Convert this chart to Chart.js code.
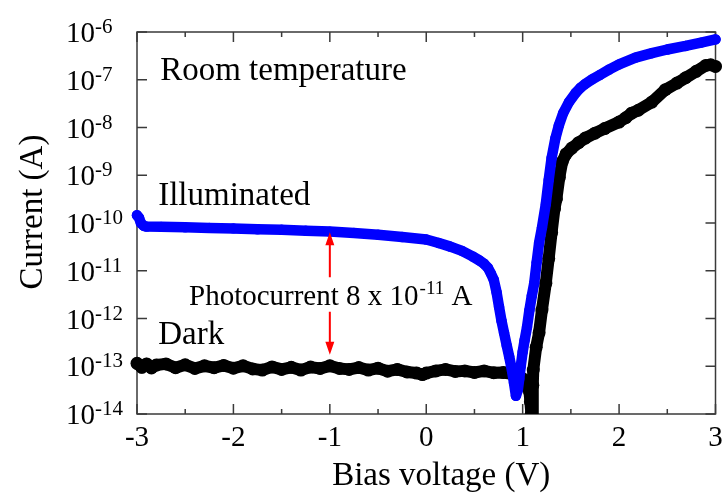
<!DOCTYPE html>
<html>
<head>
<meta charset="utf-8">
<script src="https://cdn.jsdelivr.net/npm/chart.js@4.4.1/dist/chart.umd.min.js"></script>
<style>
  html, body { margin: 0; padding: 0; background: #ffffff; }
  #wrap { width: 722px; height: 494px; position: relative; }
</style>
</head>
<body>
<div id="wrap"><canvas id="c" width="722" height="494"></canvas></div>
<script>
// ---------- data ----------
const illumV = [-3.00,-2.98,-2.96,-2.93,-2.90,-2.75,-2.50,-2.25,-2.00,-1.75,-1.50,-1.25,-1.00,-0.75,-0.50,-0.25,0.00,0.13,0.25,0.37,0.48,0.55,0.60,0.64,0.67,0.70,0.73,0.755,0.78,0.807,0.835,0.86,0.89,0.91,0.93,0.95,0.965,0.98,1.00,1.02,1.045,1.07,1.095,1.12,1.145,1.17,1.20,1.24,1.27,1.30,1.34,1.375,1.42,1.48,1.55,1.60,1.65,1.72,1.80,1.90,2.00,2.17,2.34,2.50,2.69,2.85,3.00];
const illumI = [1.45e-10,1.3e-10,1.0e-10,8.7e-11,8.4e-11,8.3e-11,8.1e-11,7.9e-11,7.7e-11,7.4e-11,7.2e-11,6.9e-11,6.6e-11,6.2e-11,5.7e-11,5.1e-11,4.5e-11,3.8e-11,3.2e-11,2.6e-11,2.0e-11,1.65e-11,1.4e-11,1.15e-11,8.8e-12,6.5e-12,3.5e-12,1.75e-12,9e-13,5e-13,2.7e-13,1.6e-13,8e-14,4.5e-14,2.4e-14,3.2e-14,5.5e-14,1.0e-13,2.0e-13,3.5e-13,6.6e-13,1.5e-12,3.0e-12,5.5e-12,1.5e-11,3.8e-11,8.0e-11,2.5e-10,8.0e-10,2.3e-9,6.0e-9,1.1e-8,2.0e-8,3.4e-8,5.3e-8,6.8e-8,8.2e-8,1.02e-7,1.26e-7,1.65e-7,2.1e-7,2.9e-7,3.6e-7,4.3e-7,5.1e-7,6.0e-7,7.0e-7];

const darkV = [-3.00,-2.95,-2.90,-2.85,-2.80,-2.70,-2.60,-2.50,-2.40,-2.30,-2.20,-2.10,-2.00,-1.90,-1.80,-1.70,-1.60,-1.50,-1.40,-1.30,-1.20,-1.10,-1.00,-0.90,-0.80,-0.70,-0.60,-0.50,-0.40,-0.30,-0.20,-0.10,-0.04,0.00,0.10,0.20,0.30,0.40,0.50,0.60,0.70,0.80,0.90,0.96,1.00,1.04,1.07,1.08,1.09,1.10,1.105,1.11,1.14,1.17,1.20,1.24,1.27,1.30,1.33,1.35,1.38,1.41,1.45,1.51,1.58,1.65,1.75,1.85,2.00,2.07,2.13,2.20,2.34,2.48,2.60,2.69,2.80,2.90,2.95,3.00];
const darkI = [1.15e-13,0.95e-13,1.12e-13,0.92e-13,1.06e-13,1.12e-13,0.93e-13,1.07e-13,0.9e-13,1.02e-13,0.93e-13,1.04e-13,0.91e-13,1.02e-13,0.88e-13,0.83e-13,0.97e-13,0.86e-13,0.95e-13,0.83e-13,0.96e-13,0.9e-13,1.02e-13,0.9e-13,0.86e-13,0.94e-13,0.83e-13,0.91e-13,0.79e-13,0.86e-13,0.76e-13,0.72e-13,0.67e-13,0.72e-13,0.8e-13,0.86e-13,0.78e-13,0.8e-13,0.74e-13,0.8e-13,0.73e-13,0.74e-13,0.69e-13,0.63e-13,0.55e-13,0.42e-13,0.3e-13,0.18e-13,1.0e-14,8e-15,4e-14,8.3e-14,2.5e-13,5e-13,1.5e-12,5.5e-12,1.8e-11,6.3e-11,2.0e-10,3.2e-10,9e-10,1.9e-9,2.8e-9,3.7e-9,4.8e-9,6.0e-9,7.6e-9,9.5e-9,1.3e-8,1.6e-8,2.0e-8,2.3e-8,3.4e-8,6.2e-8,8.5e-8,1.1e-7,1.5e-7,2.0e-7,2.05e-7,1.9e-7];

const xTicks = [-3,-2,-1,0,1,2,3];
const xMinorTicks = [-2.5,-1.5,-0.5,0.5,1.5,2.5];
const yExponents = [-14,-13,-12,-11,-10,-9,-8,-7,-6];

const xTitle = 'Bias voltage (V)';
const yTitle = 'Current (A)';
const notes = [
  { text: 'Room temperature', v: -2.76, i: 9.9e-8 },
  { text: 'Illuminated', v: -2.78, i: 2.4e-10 },
  { text: 'Dark', v: -2.78, i: 2.9e-13 }
];
const photoV = -1.0;
const photoTop = 6.4e-11;
const photoBottom = 1.75e-13;

// ---------- chart ----------
const SERIF = '"Liberation Serif", "Times New Roman", serif';
Chart.defaults.font.family = SERIF;

const toXY = (vs, is) => vs.map((v, k) => ({ x: v, y: is[k] }));
const FRAME = '#3a3a3a';

const decor = {
  id: 'decor',
  beforeDatasetsDraw(chart) {
    const { ctx, chartArea: a, scales: { x, y } } = chart;
    ctx.save();
    ctx.strokeStyle = FRAME;
    ctx.lineWidth = 1.5;
    ctx.strokeRect(a.left, a.top, a.right - a.left, a.bottom - a.top);
    ctx.beginPath();
    xTicks.forEach(t => {
      const px = x.getPixelForValue(t);
      ctx.moveTo(px, a.bottom); ctx.lineTo(px, a.bottom - 10);
      ctx.moveTo(px, a.top); ctx.lineTo(px, a.top + 10);
    });
    xMinorTicks.forEach(t => {
      const px = x.getPixelForValue(t);
      ctx.moveTo(px, a.bottom); ctx.lineTo(px, a.bottom - 5);
      ctx.moveTo(px, a.top); ctx.lineTo(px, a.top + 5);
    });
    yExponents.forEach(e => {
      const py = y.getPixelForValue(Math.pow(10, e));
      ctx.moveTo(a.left, py); ctx.lineTo(a.left + 10, py);
      ctx.moveTo(a.right, py); ctx.lineTo(a.right - 10, py);
    });
    ctx.stroke();
    ctx.restore();
  },
  afterDatasetsDraw(chart) {
    const { ctx, chartArea: a, scales: { x, y } } = chart;
    ctx.save();
    ctx.fillStyle = '#000';
    // y tick labels 10^n
    yExponents.forEach(e => {
      const py = y.getPixelForValue(Math.pow(10, e));
      ctx.textAlign = 'left';
      ctx.textBaseline = 'alphabetic';
      ctx.font = '29px ' + SERIF;
      ctx.fillText('10', 66, py + 10);
      const w = ctx.measureText('10').width;
      ctx.font = '21px ' + SERIF;
      ctx.fillText(String(e), 66 + w, py + 1);
    });
    // x tick labels
    ctx.font = '29px ' + SERIF;
    ctx.textAlign = 'center';
    xTicks.forEach(t => {
      ctx.fillText(String(t), x.getPixelForValue(t), 446);
    });
    // axis titles
    ctx.font = '33px ' + SERIF;
    ctx.fillText(xTitle, (a.left + a.right) / 2 + 15, 485);
    ctx.save();
    ctx.translate(42, 212);
    ctx.rotate(-Math.PI / 2);
    ctx.textAlign = 'center';
    ctx.fillText(yTitle, 0, 0);
    ctx.restore();
    // annotations
    ctx.textAlign = 'left';
    ctx.font = '33px ' + SERIF;
    notes.forEach(n => {
      ctx.fillText(n.text, x.getPixelForValue(n.v), y.getPixelForValue(n.i));
    });
    // photocurrent arrows
    const ax = x.getPixelForValue(photoV);
    const yt = y.getPixelForValue(photoTop);
    const yb = y.getPixelForValue(photoBottom);
    const gapTop = yt + 45, gapBot = yb - 43;
    ctx.strokeStyle = '#ff0000';
    ctx.fillStyle = '#ff0000';
    ctx.lineWidth = 2;
    ctx.beginPath();
    ctx.moveTo(ax, yt + 10); ctx.lineTo(ax, gapTop);
    ctx.moveTo(ax, yb - 10); ctx.lineTo(ax, gapBot);
    ctx.stroke();
    ctx.beginPath();
    ctx.moveTo(ax, yt); ctx.lineTo(ax - 4.5, yt + 13); ctx.lineTo(ax + 4.5, yt + 13); ctx.closePath();
    ctx.moveTo(ax, yb); ctx.lineTo(ax - 4.5, yb - 13); ctx.lineTo(ax + 4.5, yb - 13); ctx.closePath();
    ctx.fill();
    // photocurrent label
    ctx.fillStyle = '#000';
    ctx.font = '29px ' + SERIF;
    const base = (gapTop + gapBot) / 2 + 11;
    let tx = 189;
    const p1 = 'Photocurrent 8 x 10';
    ctx.fillText(p1, tx, base);
    tx += ctx.measureText(p1).width;
    ctx.font = '19px ' + SERIF;
    ctx.fillText('-11', tx + 1, base - 11);
    tx += ctx.measureText('-11').width + 1;
    ctx.font = '29px ' + SERIF;
    ctx.fillText(' A', tx, base);
    ctx.restore();
  }
};

new Chart(document.getElementById('c'), {
  type: 'scatter',
  data: {
    datasets: [
      {
        label: 'Illuminated',
        data: toXY(illumV, illumI),
        showLine: true,
        borderColor: '#0000ff',
        backgroundColor: '#0000ff',
        borderWidth: 10.5,
        borderCapStyle: 'round',
        borderJoinStyle: 'round',
        pointRadius: 5.2,
        pointBorderWidth: 0,
        clip: { left: 10, top: 10, right: 10, bottom: 0 }
      },
      {
        label: 'Dark',
        data: toXY(darkV, darkI),
        showLine: true,
        borderColor: '#000000',
        backgroundColor: '#000000',
        borderWidth: 12,
        borderCapStyle: 'round',
        borderJoinStyle: 'round',
        pointRadius: 6.5,
        pointBorderWidth: 0,
        clip: { left: 10, top: 10, right: 10, bottom: 0 }
      }
    ]
  },
  options: {
    responsive: false,
    animation: false,
    layout: { padding: { left: 137, right: 5, top: 32, bottom: 80 } },
    plugins: { legend: { display: false }, tooltip: { enabled: false } },
    scales: {
      x: { type: 'linear', min: -3, max: 3, display: false },
      y: { type: 'logarithmic', min: 1e-14, max: 1e-6, display: false }
    }
  },
  plugins: [decor]
});
</script>
</body>
</html>
